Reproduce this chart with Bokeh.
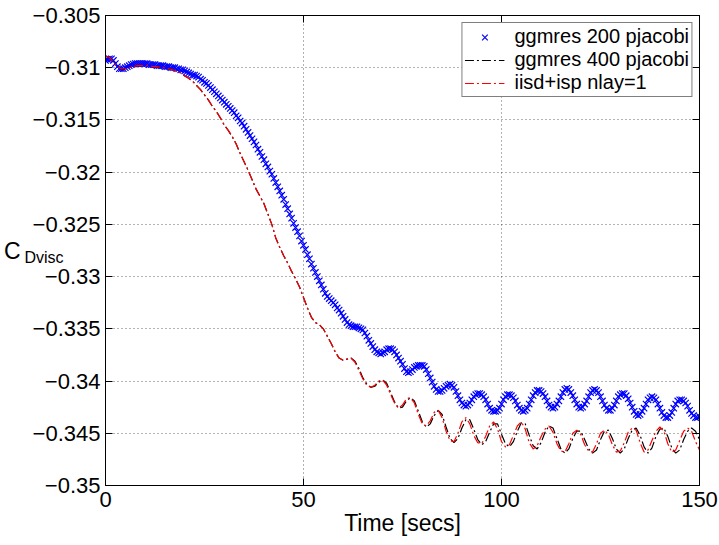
import numpy as np
from bokeh.plotting import figure
from bokeh.models import Range1d, FixedTicker, LinearAxis
from bokeh.embed import file_html
from bokeh.resources import INLINE

# ---------------- data ----------------
time_blue = [i * 0.5 for i in range(301)]
cd_ggmres200 = [
    -0.3093, -0.3092, -0.30915, -0.30915, -0.3093, -0.3096, -0.3099, -0.3101, -0.3101, -0.3101,
    -0.3100, -0.3099, -0.3098, -0.3097, -0.30965, -0.3096, -0.3096, -0.3096, -0.3096, -0.3096,
    -0.3096, -0.3096, -0.3097, -0.3097, -0.3097, -0.3097, -0.3098, -0.3098, -0.3098, -0.3098,
    -0.3099, -0.3099, -0.3099, -0.3100, -0.3100, -0.3100, -0.3101, -0.3101, -0.3102, -0.3102,
    -0.3103, -0.3104, -0.3105, -0.3106, -0.3107, -0.3107, -0.3108, -0.3109, -0.3111, -0.3112,
    -0.3114, -0.3115, -0.3117, -0.3119, -0.3121, -0.3123, -0.3125, -0.3127, -0.3129, -0.3131,
    -0.3133, -0.3135, -0.3137, -0.3139, -0.3141, -0.3143, -0.3146, -0.3148, -0.3151, -0.3153,
    -0.3156, -0.3159, -0.3162, -0.3165, -0.3168, -0.3171, -0.3174, -0.3178, -0.3181, -0.3185,
    -0.3188, -0.3192, -0.3195, -0.3199, -0.3202, -0.3206, -0.3210, -0.3214, -0.3218, -0.3222,
    -0.3226, -0.3231, -0.3235, -0.3240, -0.3244, -0.3249, -0.3253, -0.3257, -0.3261, -0.3266,
    -0.3270, -0.3274, -0.3279, -0.3283, -0.3288, -0.3292, -0.3296, -0.3300, -0.3304, -0.3308,
    -0.3312, -0.3316, -0.3319, -0.3321, -0.3323, -0.3325, -0.3327, -0.3330, -0.3332, -0.3335,
    -0.3338, -0.3341, -0.3344, -0.3346, -0.3347, -0.3348, -0.3348, -0.3348, -0.3349, -0.3350,
    -0.3351, -0.3354, -0.3357, -0.3361, -0.3364, -0.3367, -0.3370, -0.3372, -0.3373, -0.3374,
    -0.3373, -0.3372, -0.3370, -0.3369, -0.3369, -0.3370, -0.3372, -0.3375, -0.3378, -0.3381,
    -0.3384, -0.3388, -0.3391, -0.3392, -0.3391, -0.3389, -0.3387, -0.3386, -0.3385, -0.3385,
    -0.3385, -0.3386, -0.3389, -0.3393, -0.3397, -0.3401, -0.3405, -0.3408, -0.3410, -0.3410,
    -0.3409, -0.3407, -0.3405, -0.3404, -0.3403, -0.3404, -0.3406, -0.3410, -0.3414, -0.3418,
    -0.3421, -0.3423, -0.3424, -0.3423, -0.3421, -0.3418, -0.3415, -0.3413, -0.3412, -0.3412,
    -0.3413, -0.3415, -0.3418, -0.3422, -0.3426, -0.3428, -0.3429, -0.3429, -0.3428, -0.3426,
    -0.3422, -0.3418, -0.3415, -0.3413, -0.3413, -0.3414, -0.3416, -0.3419, -0.3423, -0.3426,
    -0.3428, -0.3429, -0.3428, -0.3426, -0.3422, -0.3418, -0.3414, -0.3411, -0.3409, -0.3409,
    -0.3410, -0.3412, -0.3415, -0.3419, -0.3423, -0.3425, -0.3426, -0.3425, -0.3422, -0.3419,
    -0.3415, -0.3411, -0.3408, -0.3407, -0.3408, -0.3411, -0.3414, -0.3418, -0.3422, -0.3425,
    -0.3426, -0.3425, -0.3422, -0.3419, -0.3415, -0.3411, -0.3409, -0.3408, -0.3409, -0.3411,
    -0.3415, -0.3419, -0.3423, -0.3426, -0.3428, -0.3428, -0.3426, -0.3423, -0.3419, -0.3415,
    -0.3413, -0.3412, -0.3412, -0.3414, -0.3417, -0.3421, -0.3425, -0.3429, -0.3432, -0.3433,
    -0.3432, -0.3429, -0.3426, -0.3422, -0.3418, -0.3416, -0.3415, -0.3416, -0.3418, -0.3422,
    -0.3426, -0.3430, -0.3433, -0.3435, -0.3435, -0.3433, -0.3430, -0.3426, -0.3422, -0.3419,
    -0.3418, -0.3418, -0.3419, -0.3421, -0.3424, -0.3428, -0.3431, -0.3433, -0.3435, -0.3435,
    -0.3434,
]

time_lines = list(range(151))
cd_ggmres400 = [
    -0.3089, -0.3090, -0.3095, -0.3099, -0.3101, -0.3101, -0.3100, -0.3099, -0.3098, -0.3098,
    -0.3098, -0.3098, -0.3099, -0.3099, -0.3100, -0.3100, -0.3101, -0.3102, -0.3103, -0.3105,
    -0.3108, -0.3110, -0.3113, -0.3117, -0.3121, -0.3126, -0.3131, -0.3137, -0.3142, -0.3148,
    -0.3155, -0.3160, -0.3166, -0.3173, -0.3182, -0.3190, -0.3198, -0.3207, -0.3216, -0.3223,
    -0.3230, -0.3240, -0.3250, -0.3263, -0.3272, -0.3280, -0.3287, -0.3295, -0.3302, -0.3310,
    -0.3320, -0.3330, -0.3339, -0.3344, -0.3346, -0.3350, -0.3357, -0.3364, -0.3372, -0.3378,
    -0.3380, -0.3379, -0.3378, -0.3381, -0.3388, -0.3397, -0.3403, -0.3406, -0.3405, -0.3401,
    -0.3399, -0.3402, -0.3411, -0.3420, -0.3426, -0.3425, -0.3419, -0.3416, -0.3419, -0.3429,
    -0.3439, -0.3444, -0.3441, -0.3433, -0.3428, -0.3432, -0.3444, -0.3455, -0.3459, -0.3455,
    -0.3445, -0.3437, -0.3437, -0.3446, -0.3456, -0.3461, -0.3458, -0.3449, -0.3441, -0.3441,
    -0.3451, -0.3460, -0.3463, -0.3458, -0.3448, -0.3440, -0.3441, -0.3452, -0.3462, -0.3465,
    -0.3459, -0.3449, -0.3443, -0.3445, -0.3455, -0.3465, -0.3469, -0.3465, -0.3455, -0.3448,
    -0.3448, -0.3456, -0.3465, -0.3469, -0.3466, -0.3456, -0.3448, -0.3447, -0.3455, -0.3465,
    -0.3469, -0.3465, -0.3455, -0.3447, -0.3445, -0.3452, -0.3463, -0.3469, -0.3464, -0.3453,
    -0.3446, -0.3445, -0.3453, -0.3464, -0.3469, -0.3466, -0.3456, -0.3448, -0.3445, -0.3448,
    -0.3456,
]
cd_iisd = [
    -0.3089, -0.3090, -0.3095, -0.3099, -0.3101, -0.3101, -0.3100, -0.3099, -0.3098, -0.3098,
    -0.3098, -0.3098, -0.3099, -0.3099, -0.3100, -0.3100, -0.3101, -0.3102, -0.3103, -0.3105,
    -0.3108, -0.3110, -0.3113, -0.3117, -0.3121, -0.3126, -0.3131, -0.3137, -0.3142, -0.3148,
    -0.3155, -0.3160, -0.3166, -0.3173, -0.3182, -0.3190, -0.3198, -0.3207, -0.3216, -0.3223,
    -0.3230, -0.3240, -0.3250, -0.3263, -0.3272, -0.3280, -0.3287, -0.3295, -0.3302, -0.3310,
    -0.3320, -0.3330, -0.3339, -0.3344, -0.3346, -0.3350, -0.3357, -0.3364, -0.3372, -0.3378,
    -0.3380, -0.3379, -0.3378, -0.3382, -0.3390, -0.3398, -0.3404, -0.3406, -0.3404, -0.3400,
    -0.3399, -0.3404, -0.3413, -0.3421, -0.3426, -0.3423, -0.3417, -0.3416, -0.3421, -0.3432,
    -0.3441, -0.3443, -0.3438, -0.3430, -0.3428, -0.3435, -0.3448, -0.3457, -0.3458, -0.3450,
    -0.3439, -0.3435, -0.3441, -0.3452, -0.3459, -0.3460, -0.3453, -0.3443, -0.3439, -0.3446,
    -0.3458, -0.3463, -0.3461, -0.3452, -0.3443, -0.3439, -0.3446, -0.3459, -0.3465, -0.3462,
    -0.3453, -0.3446, -0.3443, -0.3449, -0.3460, -0.3467, -0.3468, -0.3460, -0.3450, -0.3447,
    -0.3451, -0.3461, -0.3467, -0.3468, -0.3460, -0.3450, -0.3447, -0.3451, -0.3461, -0.3468,
    -0.3467, -0.3459, -0.3449, -0.3445, -0.3447, -0.3459, -0.3468, -0.3466, -0.3457, -0.3448,
    -0.3444, -0.3448, -0.3460, -0.3468, -0.3466, -0.3457, -0.3448, -0.3445, -0.3448, -0.3458,
    -0.3466,
]

series_names = ["ggmres 200 pjacobi", "ggmres 400 pjacobi", "iisd+isp nlay=1"]
x_ticks = [0, 50, 100, 150]
x_tick_labels = ["0", "50", "100", "150"]
y_ticks = [-0.35, -0.345, -0.34, -0.335, -0.33, -0.325, -0.32, -0.315, -0.31, -0.305]
y_tick_labels = ["\u22120.35", "\u22120.345", "\u22120.34", "\u22120.335", "\u22120.33",
                 "\u22120.325", "\u22120.32", "\u22120.315", "\u22120.31", "\u22120.305"]
x_label = "Time [secs]"
y_label_main = "C"
y_label_sub = "Dvisc"
y_label_main_at = -0.3275   # vertical place of the y label (data units)
y_label_sub_at = -0.3282

FONT = "Liberation Sans"

# ---------------- figure ----------------
p = figure(width=719, height=545,
           x_range=Range1d(0, 150), y_range=Range1d(-0.35, -0.305),
           output_backend="svg", toolbar_location=None,
           min_border_left=104, min_border_right=20,
           min_border_top=15, min_border_bottom=60)
p.background_fill_color = "white"
p.border_fill_color = "white"
p.outline_line_color = "black"
p.outline_line_width = 1

# main axes
for ax, ticks, labels in ((p.xaxis[0], x_ticks, x_tick_labels),
                          (p.yaxis[0], y_ticks, y_tick_labels)):
    ax.ticker = FixedTicker(ticks=ticks)
    ax.major_label_overrides = dict(zip(ticks, labels))
    ax.major_label_text_font = FONT
    ax.major_label_text_font_size = "22px"
    ax.major_label_text_color = "black"
    ax.major_tick_in = 7
    ax.major_tick_out = 0
    ax.minor_tick_line_color = None
    ax.axis_line_color = "black"
    ax.major_tick_line_color = "black"

p.xaxis.major_label_standoff = 6
p.yaxis.major_label_standoff = 5
p.xaxis.axis_label = x_label
p.xaxis.axis_label_text_font = FONT
p.xaxis.axis_label_text_font_size = "23px"
p.xaxis.axis_label_text_font_style = "normal"
p.xaxis.axis_label_text_color = "black"
p.xaxis.axis_label_standoff = 0

# mirror axes (ticks only) on top and right
top_ax = LinearAxis(ticker=FixedTicker(ticks=x_ticks), major_label_text_font_size="0px",
                    major_tick_in=7, major_tick_out=0, minor_tick_line_color=None,
                    major_label_standoff=0, axis_line_color="black")
top_ax.major_label_overrides = {t: "" for t in x_ticks}
right_ax = LinearAxis(ticker=FixedTicker(ticks=y_ticks), major_label_text_font_size="0px",
                      major_tick_in=7, major_tick_out=0, minor_tick_line_color=None,
                      major_label_standoff=0, axis_line_color="black")
right_ax.major_label_overrides = {t: "" for t in y_ticks}
p.add_layout(top_ax, "above")
p.add_layout(right_ax, "right")


def label_axis(text, at, size, standoff):
    a = LinearAxis(ticker=FixedTicker(ticks=[at]), major_tick_in=0, major_tick_out=0,
                   minor_tick_line_color=None, major_tick_line_color=None,
                   axis_line_color=None, major_label_standoff=standoff,
                   major_label_text_font=FONT, major_label_text_font_size=size,
                   major_label_text_color="black")
    a.major_label_overrides = {at: text}
    return a


# y label "C_Dvisc": subscript part first (inner), main letter outside it
p.add_layout(label_axis(y_label_sub, y_label_sub_at, "16px", -34), "left")
p.add_layout(label_axis(y_label_main, y_label_main_at, "23px", 1), "left")

# grid
p.xgrid.ticker = FixedTicker(ticks=x_ticks)
p.ygrid.ticker = FixedTicker(ticks=y_ticks)
for g in (p.xgrid[0], p.ygrid[0]):
    g.grid_line_color = "black"
    g.grid_line_alpha = 0.6
    g.grid_line_dash = "1 3"
    g.grid_line_width = 1

# series
p.scatter(time_blue, cd_ggmres200, marker="x", size=9, line_color="#0000ff",
          line_width=1.2, legend_label=series_names[0])
p.line(time_lines, cd_ggmres400, line_color="black", line_width=1.2,
       line_dash="9 3 2 3", legend_label=series_names[1])
p.line(time_lines, cd_iisd, line_color="#ff0000", line_width=1.2,
       line_dash="9 3 2 3", legend_label=series_names[2])

# legend
lg = p.legend[0]
lg.location = "top_right"
lg.margin = 7
lg.padding = 2
lg.spacing = -2
lg.label_text_font = FONT
lg.label_text_font_size = "20px"
lg.label_text_color = "black"
lg.glyph_width = 40
lg.glyph_height = 20
lg.label_standoff = 10
lg.border_line_color = "black"
lg.border_line_width = 1
lg.background_fill_alpha = 1.0

open("out.html", "w").write(file_html(p, INLINE))
